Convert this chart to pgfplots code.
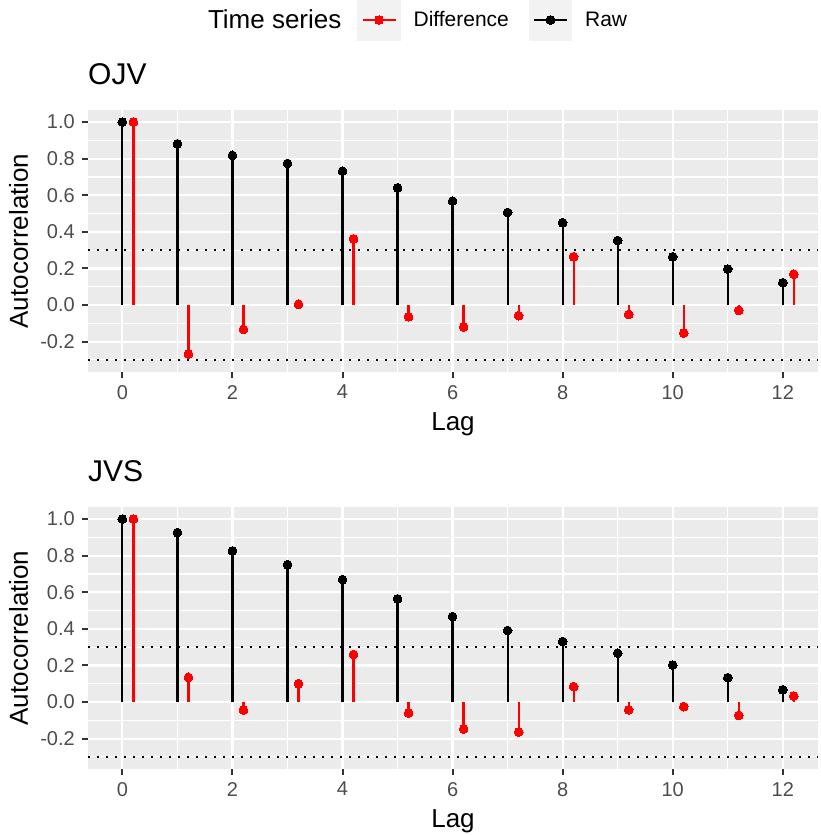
\documentclass[border=0pt]{standalone}
\usepackage{pgfplots}
\pgfplotsset{compat=1.18}
\usepackage{fontspec}
\setmainfont{Liberation Sans}
\definecolor{panel}{HTML}{EBEBEB}
\definecolor{tickgrey}{HTML}{4D4D4D}
\definecolor{tickmark}{HTML}{333333}
\definecolor{keybg}{HTML}{F2F2F2}
\definecolor{diffred}{HTML}{FF0000}
\pgfplotsset{
  acf/.style={
    scale only axis, width=730pt, height=262pt,
    xmin=-0.625, xmax=12.64, ymin=-0.366, ymax=1.066,
    axis background/.style={fill=panel},
    axis line style={draw=none},
    xtick={0,2,4,6,8,10,12}, xticklabels={0,2,4,6,8,10,12},
    ytick={-0.2,0,0.2,0.4,0.6,0.8,1.0}, yticklabels={-0.2,0.0,0.2,0.4,0.6,0.8,1.0},
    minor xtick={1,3,5,7,9,11}, minor ytick={-0.3,-0.1,0.1,0.3,0.5,0.7,0.9},
    grid=both,
    major grid style={white, line width=2.2pt},
    minor grid style={white, line width=1.1pt},
    tick align=outside, major tick length=6pt, minor tick length=0pt,
    xtick pos=left, ytick pos=left,
    every tick/.style={tickmark, line width=2pt},
    ticklabel style={font=\fontsize{20}{24}\selectfont, text=tickgrey, inner sep=0pt},
    xticklabel style={anchor=north, yshift=-7pt},
    yticklabel style={anchor=east, xshift=-7pt},
    xlabel={Lag},
    xlabel style={font=\fontsize{26}{30}\selectfont, at={(axis description cs:0.5,0)}, anchor=base, inner sep=0pt, yshift=-58pt},
    ylabel={Autocorrelation},
    ylabel style={font=\fontsize{26}{30}\selectfont, at={([xshift=-60pt]axis description cs:0,0.5)}, anchor=base, inner sep=0pt, rotate=0},
    title style={font=\fontsize{30}{34}\selectfont, at={(axis description cs:0,1)}, anchor=base west, inner sep=0pt, yshift=20pt},
  },
  stemraw/.style={ycomb, black, line width=2.2pt, mark=*, mark size=4.4pt, mark options={solid, fill=black, draw=black, line width=0pt}, forget plot},
  stemdiff/.style={ycomb, diffred, line width=2.2pt, mark=*, mark size=4.4pt, mark options={solid, fill=diffred, draw=diffred, line width=0pt}, forget plot},
  bound/.style={black, line width=2pt, dash pattern=on 2pt off 7pt, forget plot},
  keyimg/.style={legend image code/.code={\fill[keybg] (0pt,-20pt) rectangle (41pt,20pt);
    \draw[mark repeat=2, mark phase=2, ##1] plot coordinates {(4pt,0pt) (20.5pt,0pt) (37pt,0pt)};}},
}
\begin{document}
\begin{tikzpicture}
\useasboundingbox (0pt,0pt) rectangle (820pt,-835pt);
% ---------------- OJV ----------------
\begin{axis}[acf, at={(88pt,-372pt)}, anchor=south west, title={OJV},
  legend columns=-1,
  legend style={draw=none, fill=none, inner sep=0pt, outer sep=0pt,
    at={(axis description cs:0.1644,1.3435)}, anchor=west,
    font=\fontsize{21}{25}\selectfont, nodes={inner sep=0pt},
    /tikz/column 1/.style={column sep=0pt},
    /tikz/column 2/.style={column sep=16pt},
    /tikz/column 3/.style={column sep=13pt},
    /tikz/column 4/.style={column sep=20pt},
    /tikz/column 5/.style={column sep=13pt}},
  ]
\addlegendimage{empty legend}
\addlegendentry{\fontsize{26}{30}\selectfont Time series}
\addlegendimage{diffred, line width=2.2pt, mark=*, mark size=4.4pt, mark options={solid, fill=diffred, draw=diffred, line width=0pt}, keyimg}
\addlegendentry{Difference}
\addlegendimage{black, line width=2.2pt, mark=*, mark size=4.4pt, mark options={solid, fill=black, draw=black, line width=0pt}, keyimg}
\addlegendentry{Raw}
\addplot[bound] coordinates {(-0.625,0.3) (12.64,0.3)};
\addplot[bound] coordinates {(-0.625,-0.3) (12.64,-0.3)};
\addplot[stemraw] coordinates {
(0,1.0) (1,0.881) (2,0.818) (3,0.774) (4,0.732) (5,0.641) (6,0.568)
(7,0.506) (8,0.450) (9,0.353) (10,0.264) (11,0.197) (12,0.122)};
\addplot[stemdiff] coordinates {
(0.2,1.0) (1.2,-0.268) (2.2,-0.133) (3.2,0.004) (4.2,0.362) (5.2,-0.064) (6.2,-0.120)
(7.2,-0.058) (8.2,0.264) (9.2,-0.051) (10.2,-0.153) (11.2,-0.029) (12.2,0.169)};
\end{axis}
% ---------------- JVS ----------------
\begin{axis}[acf, at={(88pt,-769pt)}, anchor=south west, title={JVS}]
\addplot[bound] coordinates {(-0.625,0.3) (12.64,0.3)};
\addplot[bound] coordinates {(-0.625,-0.3) (12.64,-0.3)};
\addplot[stemraw] coordinates {
(0,1.0) (1,0.926) (2,0.826) (3,0.751) (4,0.669) (5,0.564) (6,0.467)
(7,0.391) (8,0.331) (9,0.267) (10,0.202) (11,0.133) (12,0.067)};
\addplot[stemdiff] coordinates {
(0.2,1.0) (1.2,0.135) (2.2,-0.044) (3.2,0.100) (4.2,0.260) (5.2,-0.060) (6.2,-0.147)
(7.2,-0.164) (8.2,0.084) (9.2,-0.042) (10.2,-0.025) (11.2,-0.073) (12.2,0.033)};
\end{axis}
\end{tikzpicture}
\end{document}
